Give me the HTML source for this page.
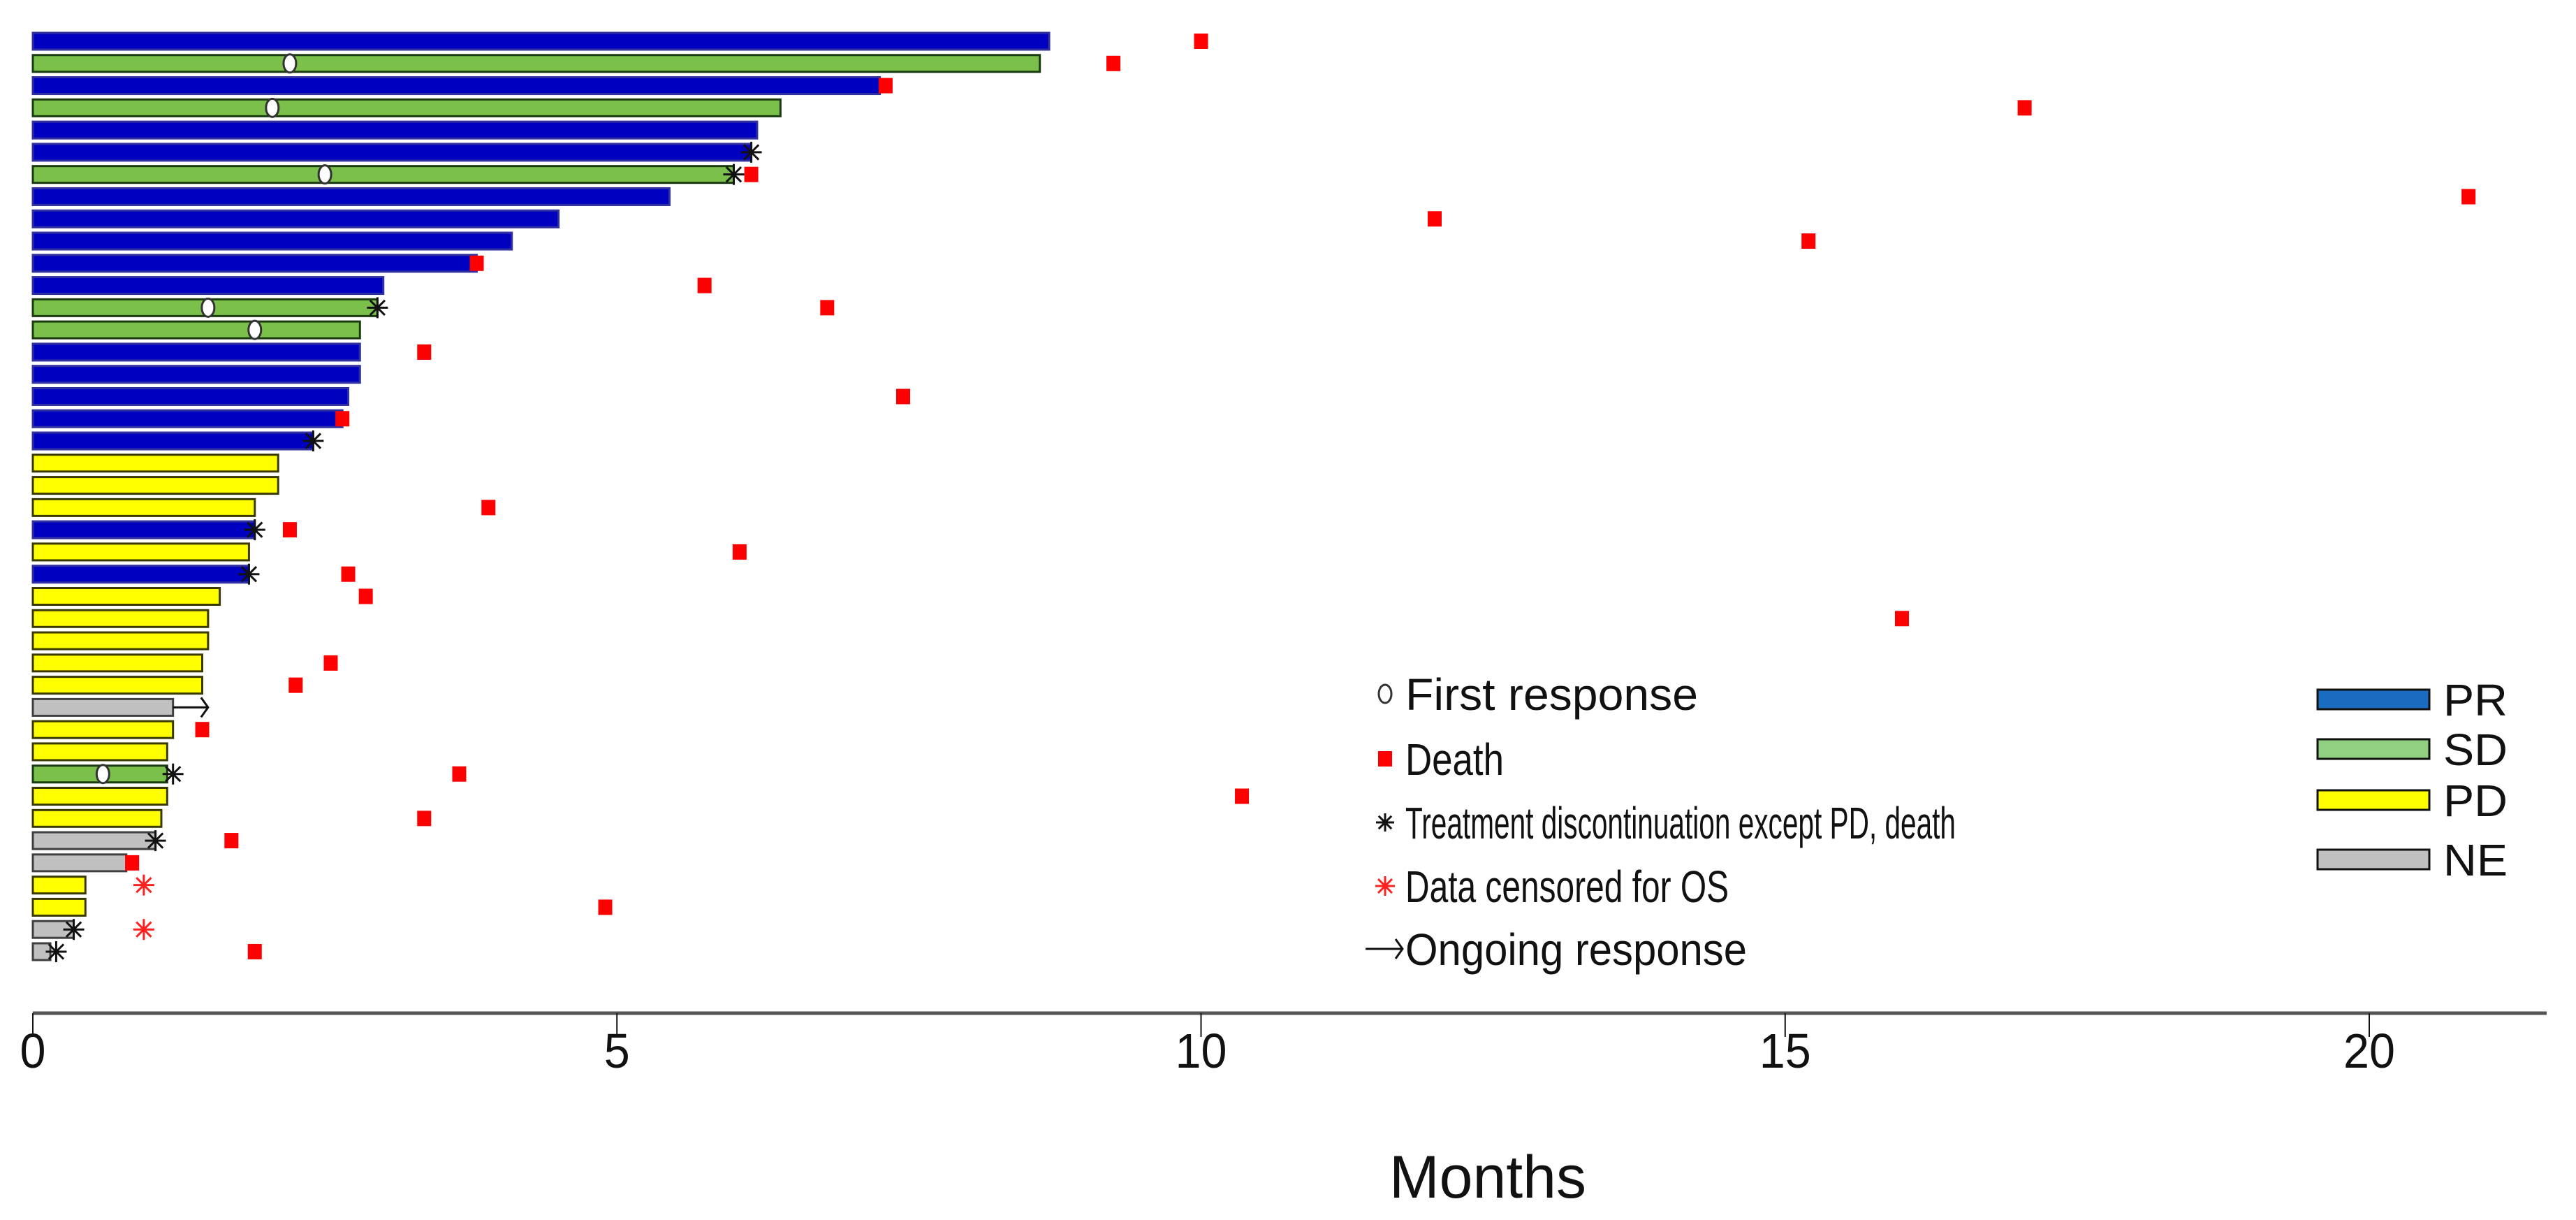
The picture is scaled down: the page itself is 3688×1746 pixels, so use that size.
<!DOCTYPE html>
<html><head><meta charset="utf-8"><style>
html,body{margin:0;padding:0;background:#fff;}
svg{display:block;font-family:"Liberation Sans",Arial,sans-serif;}
</style></head><body>
<svg id="chart" width="3688" height="1746" viewBox="0 0 3688 1746" xmlns="http://www.w3.org/2000/svg">
<g id="bars"></g>
<g id="marks"></g>
<g id="axis"></g>
<g id="legend"></g>
</svg>
<script>
// Data (months), one entry per patient row from top to bottom
const responses = ["PR","SD","PR","SD","PR","PR","SD","PR","PR","PR","PR","PR","SD","SD","PR","PR","PR","PR","PR","PD","PD","PD","PR","PD","PR","PD","PD","PD","PD","PD","NE","PD","PD","SD","PD","PD","NE","NE","PD","PD","NE","NE"];
const durations = [8.7,8.62,7.25,6.4,6.2,6.15,6.0,5.45,4.5,4.1,3.8,3.0,2.95,2.8,2.8,2.8,2.7,2.65,2.4,2.1,2.1,1.9,1.9,1.85,1.85,1.6,1.5,1.5,1.45,1.45,1.2,1.2,1.15,1.15,1.15,1.1,1.05,0.8,0.45,0.45,0.35,0.15];
const deaths = [10.0,9.25,7.3,17.05,null,null,6.15,20.85,12.0,15.2,3.8,5.75,6.8,null,3.35,null,7.45,2.65,null,null,null,3.9,2.2,6.05,2.7,2.85,16.0,null,2.55,2.25,null,1.45,null,3.65,10.35,3.35,1.7,0.85,null,4.9,null,1.9];
const firstResponse = [null,2.2,null,2.05,null,null,2.5,null,null,null,null,null,1.5,1.9,null,null,null,null,null,null,null,null,null,null,null,null,null,null,null,null,null,null,null,0.6,null,null,null,null,null,null,null,null];
const discontinuation = [null,null,null,null,null,6.15,6.0,null,null,null,null,null,2.95,null,null,null,null,null,2.4,null,null,null,1.9,null,1.85,null,null,null,null,null,null,null,null,1.2,null,null,1.05,null,null,null,0.35,0.2];
const censored = [null,null,null,null,null,null,null,null,null,null,null,null,null,null,null,null,null,null,null,null,null,null,null,null,null,null,null,null,null,null,null,null,null,null,null,null,null,null,0.95,null,0.95,null];
const ongoing = [null,null,null,null,null,null,null,null,null,null,null,null,null,null,null,null,null,null,null,null,null,null,null,null,null,null,null,null,null,null,1.5,null,null,null,null,null,null,null,null,null,null,null];
const xTicks = [0,5,10,15,20];

const NS="http://www.w3.org/2000/svg";
const x0=47, pxPerMonth=167.25, yTop=59, rowStep=31.78, barH=24;
const xScale=v=>x0+v*pxPerMonth;
const yScale=i=>yTop+i*rowStep;
const fills={PR:"#0000c0",SD:"#7cc04c",PD:"#ffff00",NE:"#c0c0c0"};
const strokes={PR:"#3030a0",SD:"#1a3a10",PD:"#3a3a00",NE:"#404040"};
function mk(tag,attrs,parent){const e=document.createElementNS(NS,tag);for(const k in attrs)e.setAttribute(k,attrs[k]);parent.appendChild(e);return e;}
const gB=document.getElementById('bars'), gM=document.getElementById('marks'), gA=document.getElementById('axis'), gL=document.getElementById('legend');

function star(cx,cy,r,color,parent){
  const g=mk('g',{},parent);
  
  
  for(let k=0;k<4;k++){const a=k*Math.PI/4;mk('line',{x1:cx-r*Math.cos(a),y1:cy-r*Math.sin(a),x2:cx+r*Math.cos(a),y2:cy+r*Math.sin(a),stroke:color,'stroke-width':3},g);}
  return g;
}
function deathSq(cx,cy,parent){
  const r=mk('rect',{x:cx-10,y:cy-11,width:20,height:22,fill:"#ff0000"},parent);
  
  
  return r;
}
function circ(cx,cy,parent){
  const c=mk('ellipse',{cx:cx,cy:cy,rx:9,ry:13,fill:"#fff",stroke:"#333",'stroke-width':3},parent);
  
  
  return c;
}
function arrow(xa,xb,cy,parent){
  const g=mk('g',{},parent);
  
  
  mk('line',{x1:xa,y1:cy,x2:xb,y2:cy,stroke:"#111",'stroke-width':3},g);
  mk('polyline',{points:`${xb-10},${cy-14} ${xb},${cy} ${xb-10},${cy+14}`,fill:"none",stroke:"#111",'stroke-width':3},g);
  return g;
}

responses.forEach((r,i)=>{
  const cy=yScale(i);
  const b=mk('rect',{x:x0,y:cy-barH/2,width:xScale(durations[i])-x0,height:barH,fill:fills[r],stroke:strokes[r],'stroke-width':3},gB);
  
  
  if(ongoing[i]!=null) arrow(xScale(durations[i]),xScale(ongoing[i]),cy,gM);
  if(firstResponse[i]!=null) circ(xScale(firstResponse[i]),cy,gM);
  if(deaths[i]!=null) deathSq(xScale(deaths[i]),cy,gM);
  if(discontinuation[i]!=null) star(xScale(discontinuation[i]),cy,15,"#111",gM);
  if(censored[i]!=null){const s=star(xScale(censored[i]),cy,15,"#ff2020",gM);}
});

// axis
const axY=1450;
const al=mk('line',{x1:x0,y1:axY,x2:3646,y2:axY,stroke:"#555",'stroke-width':5},gA);


xTicks.forEach(t=>{
  const tl=mk('line',{x1:xScale(t),y1:axY,x2:xScale(t),y2:axY+34,stroke:"#111",'stroke-width':2},gA);
  
  
  const s=String(t);
  const tx=mk('text',{x:xScale(t),y:1528,'font-size':70,'text-anchor':'middle',fill:"#111",textLength:s.length*37,lengthAdjust:"spacingAndGlyphs"},gA);
  tx.textContent=s;
  
  
});
const xt=mk('text',{x:2130,y:1714,'font-size':86,'text-anchor':'middle',fill:"#111",textLength:282,lengthAdjust:"spacingAndGlyphs"},gA);
xt.textContent="Months";



// legend left
const legItems=[["First response",993,419],["Death",1086,141],["Treatment discontinuation except PD, death",1177,788],["Data censored for OS",1268,463],["Ongoing response",1358,489]];
const mx=1983, tx0=2012;
circ(mx,legItems[0][1],gL);
deathSq(mx,legItems[1][1],gL);
star(mx,legItems[2][1],13,"#111",gL);
star(mx,legItems[3][1],14,"#ff2020",gL);
arrow(1955,2008,legItems[4][1],gL);
legItems.forEach(([t,y,w])=>{
  const e=mk('text',{x:tx0,y:y+23,'font-size':64,fill:"#111",textLength:w,lengthAdjust:"spacingAndGlyphs"},gL);
  e.textContent=t;
  
  
});
// legend right
const respLeg=[["PR",1001,"#1a6cc0"],["SD",1072,"#90d080"],["PD",1145,"#ffff00"],["NE",1230,"#c0c0c0"]];
respLeg.forEach(([t,y,c])=>{
  const r=mk('rect',{x:3318,y:y-14,width:160,height:28,fill:c,stroke:"#111",'stroke-width':3},gL);
  
  
  const e=mk('text',{x:3498,y:y+23,'font-size':64,fill:"#111",textLength:92,lengthAdjust:"spacingAndGlyphs"},gL);
  e.textContent=t;
  
  
});
</script>
</body></html>
